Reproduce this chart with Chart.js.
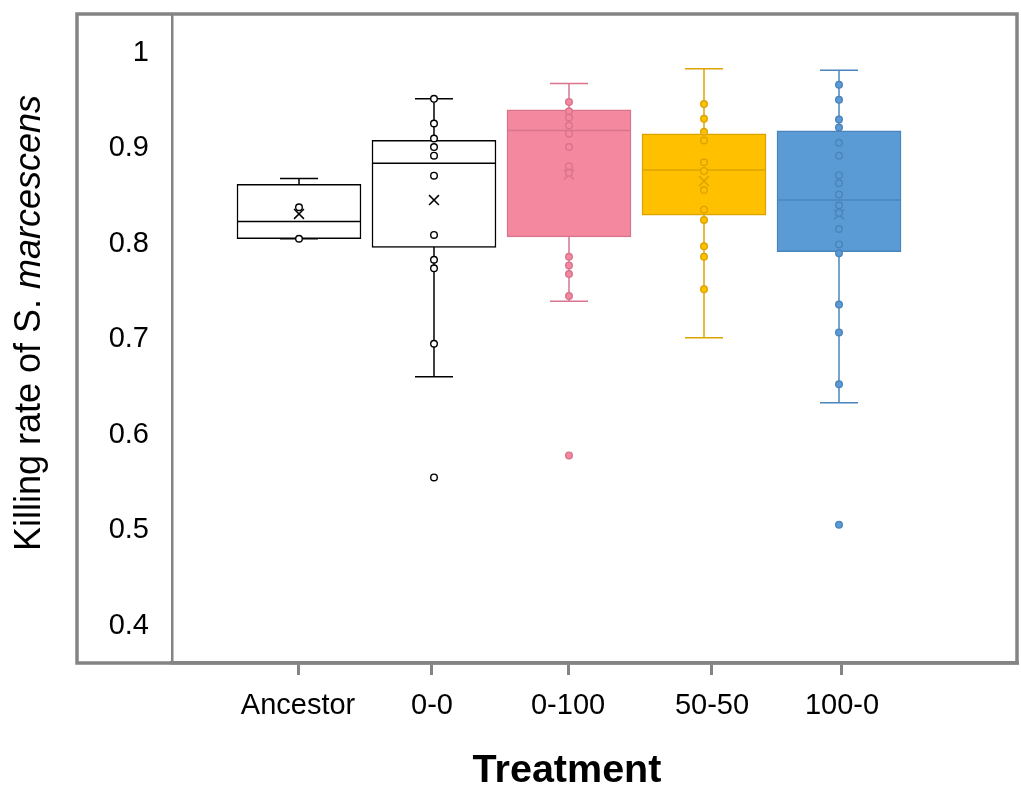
<!DOCTYPE html>
<html><head><meta charset="utf-8">
<script src="https://cdn.jsdelivr.net/npm/chart.js@4/dist/chart.umd.min.js"></script>
<style>html,body{margin:0;padding:0;background:#fff;}canvas{display:block;}</style>
</head><body>
<canvas id="c" width="1021" height="786" style="width:1021px;height:786px"></canvas>
<script>
// ---- data ----
const categories = ['Ancestor', '0-0', '0-100', '50-50', '100-0'];
const yTicks = [0.4, 0.5, 0.6, 0.7, 0.8, 0.9, 1.0];
const whiskerLow  = [0.802, 0.6575, 0.7366, 0.6983, 0.6303];
const q1          = [0.802, 0.793, 0.804, 0.8268, 0.7885];
const median      = [0.820, 0.881, 0.9153, 0.874, 0.8425];
const q3          = [0.859, 0.905, 0.937, 0.912, 0.915];
const whiskerHigh = [0.865, 0.9485, 0.9645, 0.980, 0.9784];
const means       = [0.828, 0.8425, 0.8693, 0.8624, 0.8275];
const ptsAncestor = [0.835, 0.802];
const pts00   = [0.9485, 0.9227, 0.907, 0.898, 0.889, 0.868, 0.806, 0.780, 0.771, 0.692, 0.552];
const pts0100 = [0.9453, 0.9355, 0.929, 0.9206, 0.912, 0.898, 0.878, 0.871, 0.783, 0.774, 0.765, 0.742, 0.575];
const pts5050 = [0.943, 0.9276, 0.914, 0.905, 0.882, 0.873, 0.853, 0.8324, 0.8216, 0.794, 0.783, 0.749];
const pts1000 = [0.9634, 0.9477, 0.927, 0.9185, 0.9025, 0.889, 0.8686, 0.860, 0.8484, 0.837, 0.829, 0.8122, 0.796, 0.7868, 0.733, 0.7039, 0.6495, 0.5025];
const points = [ptsAncestor, pts00, pts0100, pts5050, pts1000];

// ---- styles / layout ----
const fills   = ['#FFFFFF', '#FFFFFF', '#F3889F', '#FFC000', '#5B9BD5'];
const strokes = ['#000000', '#000000', '#D9748D', '#DDA400', '#4A84BC'];
const tickPos = [0.993, 1.985, 2.993, 4.059, 5.022]; // label positions along the x axis
const GRAY = '#848484';
const FONT = "'Liberation Sans', Arial, sans-serif";

const xOf = i => i + 1;
const datasets = [];

// whiskers
categories.forEach((c, i) => {
  datasets.push({
    type: 'line', order: 10,
    data: [{x: xOf(i), y: whiskerLow[i]}, {x: xOf(i), y: whiskerHigh[i]}],
    borderColor: strokes[i], borderWidth: 1.5, pointRadius: 0, fill: false
  });
});
// boxes
datasets.push({
  type: 'bar', order: 9,
  data: categories.map((c, i) => ({x: xOf(i), y: [q1[i], q3[i]]})),
  backgroundColor: fills, borderColor: strokes, borderWidth: 1.5,
  borderSkipped: false, barThickness: 124
});
// caps
const capData = [], capCol = [];
categories.forEach((c, i) => {
  capData.push({x: xOf(i), y: whiskerLow[i]}, {x: xOf(i), y: whiskerHigh[i]});
  capCol.push(strokes[i], strokes[i]);
});
datasets.push({
  type: 'scatter', order: 8, data: capData,
  pointStyle: 'line', pointRadius: 19, pointBorderWidth: 1.5, pointBorderColor: capCol
});
// medians
datasets.push({
  type: 'scatter', order: 7,
  data: categories.map((c, i) => ({x: xOf(i), y: median[i]})),
  pointStyle: 'line', pointRadius: 61, pointBorderWidth: 1.5, pointBorderColor: strokes
});
// means
datasets.push({
  type: 'scatter', order: 6,
  data: categories.map((c, i) => ({x: xOf(i), y: means[i]})),
  pointStyle: 'crossRot', pointRadius: 7, pointBorderWidth: 1.5, pointBorderColor: strokes
});
// data points
points.forEach((arr, i) => {
  datasets.push({
    type: 'scatter', order: 1,
    data: arr.map(v => ({x: xOf(i), y: v})),
    pointStyle: 'circle', pointRadius: 3.3, pointBorderWidth: 1.4,
    pointBackgroundColor: fills[i], pointBorderColor: strokes[i]
  });
});

const framePlugin = {
  id: 'frame',
  afterDraw(chart) {
    const ctx = chart.ctx, a = chart.chartArea, ys = chart.scales.y;
    ctx.save();
    ctx.strokeStyle = GRAY; ctx.lineWidth = 3.5;
    ctx.strokeRect(ys.left, a.top, a.right - ys.left, a.bottom - a.top);
    // x axis title
    ctx.fillStyle = '#000';
    ctx.font = 'bold 39.5px ' + FONT;
    ctx.textAlign = 'center'; ctx.textBaseline = 'middle';
    ctx.fillText('Treatment', 567, 771);
    // y axis title with italic species name
    const parts = [['Killing rate of S. ', 'normal'], ['marcescens', 'italic']];
    const size = 36;
    let total = 0;
    parts.forEach(p => { ctx.font = p[1] + ' ' + size + 'px ' + FONT; total += ctx.measureText(p[0]).width; });
    ctx.translate(30, 323);
    ctx.rotate(-Math.PI / 2);
    ctx.textAlign = 'left';
    let x = -total / 2;
    parts.forEach(p => {
      ctx.font = p[1] + ' ' + size + 'px ' + FONT;
      ctx.fillText(p[0], x, 0);
      x += ctx.measureText(p[0]).width;
    });
    ctx.restore();
  }
};

const zeroPad = s => { s.paddingLeft = 0; s.paddingRight = 0; s.paddingTop = 0; s.paddingBottom = 0; };

new Chart(document.getElementById('c'), {
  type: 'bar',
  data: { datasets },
  options: {
    responsive: false, animation: false,
    layout: { autoPadding: false, padding: { left: 77, top: 14, right: 4, bottom: 0 } },
    plugins: { legend: { display: false }, tooltip: { enabled: false } },
    scales: {
      x: {
        type: 'linear', offset: false, min: 0.0593, max: 6.3185,
        afterBuildTicks: s => { s.ticks = tickPos.map(v => ({ value: v })); },
        afterFit: s => { s.height = 123; zeroPad(s); },
        ticks: {
          autoSkip: false, maxRotation: 0, padding: 14, color: '#000',
          font: { family: FONT, size: 29 },
          callback: (v, i) => categories[i]
        },
        grid: { display: true, offset: false, drawOnChartArea: false, drawTicks: true, tickLength: 12, color: GRAY, lineWidth: 3 },
        border: { display: true, color: GRAY, width: 3.5 }
      },
      y: {
        type: 'linear', min: 0.3576, max: 1.0374,
        afterBuildTicks: s => { s.ticks = yTicks.map(v => ({ value: v })); },
        afterFit: s => { s.width = 95; zeroPad(s); },
        ticks: {
          padding: 23, labelOffset: 3, color: '#000', font: { family: FONT, size: 29 },
          callback: v => String(Math.round(v * 10) / 10)
        },
        grid: { display: false, drawTicks: false },
        border: { display: true, color: GRAY, width: 2.5 }
      }
    }
  },
  plugins: [framePlugin]
});
</script>
</body></html>
